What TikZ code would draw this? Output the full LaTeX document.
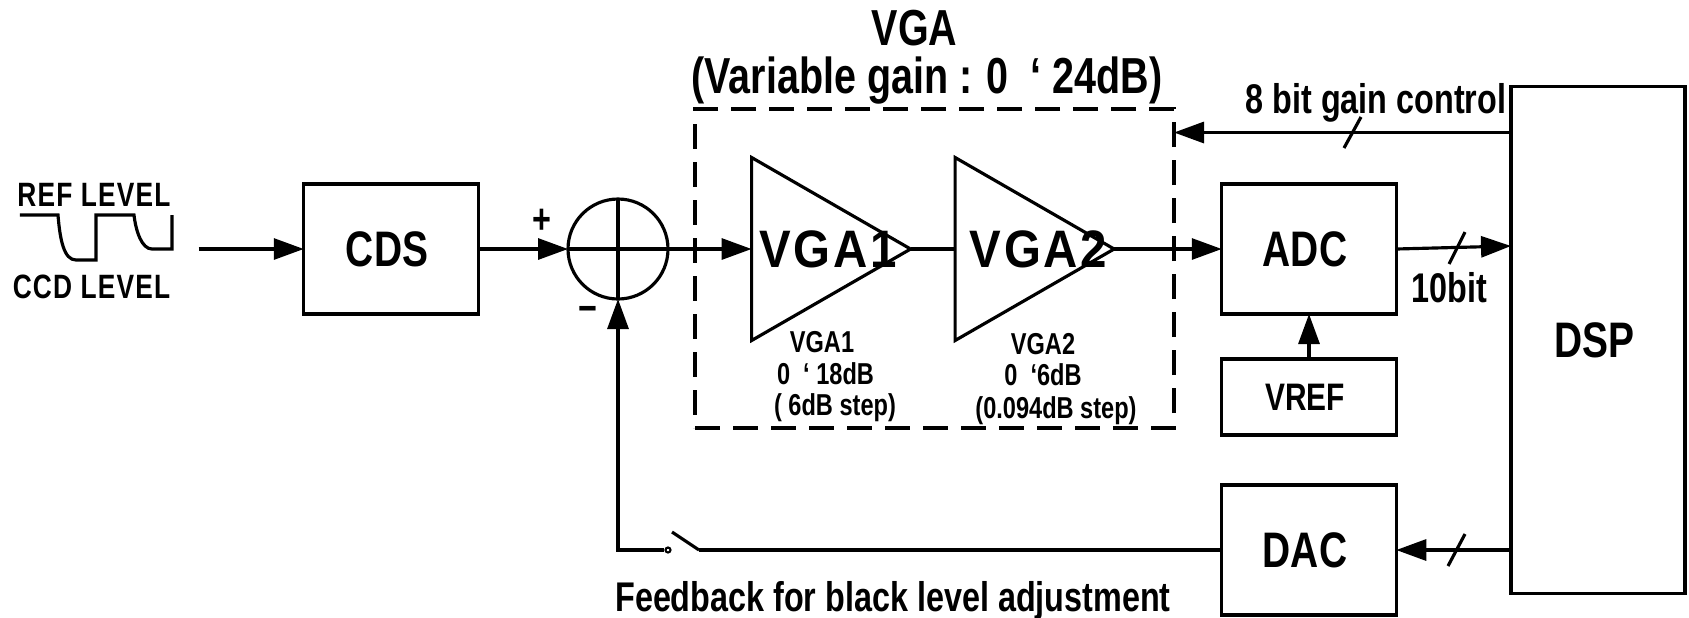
\documentclass[tikz,border=0pt]{standalone}
\usepackage{fontspec}
\setmainfont[FakeStretch=0.78]{Liberation Sans}
\newfontfamily\ampfont[FakeStretch=0.9,LetterSpace=5]{Liberation Sans}
\newfontfamily\levelfont[FakeStretch=0.78,LetterSpace=3.5]{Liberation Sans}
\usetikzlibrary{arrows.meta,shapes.geometric}
\tikzset{
  blockbox/.style={draw,rectangle,inner sep=0pt,outer sep=0pt,minimum width=1.745cm,font=\fontsize{14.2}{15}\bfseries,execute at begin node={\kern-0.8mm}},
  ampbox/.style={draw,isosceles triangle,isosceles triangle stretches,inner sep=0pt,outer sep=0pt,minimum width=1.83cm,minimum height=1.59cm},
  bigtext/.style={inner sep=0pt,font=\fontsize{14.4}{15}\bfseries},
  amptext/.style={inner sep=0pt,font=\fontsize{15}{16}\ampfont\bfseries},
  midtext/.style={inner sep=0pt,font=\fontsize{11.8}{13}\bfseries},
  smalltext/.style={inner sep=0pt,font=\fontsize{8.6}{10}\bfseries},
  leveltext/.style={inner sep=0pt,font=\fontsize{9.6}{11}\levelfont\bfseries},
  busarrow/.style={-{Triangle[length=3mm,width=2.1mm]}}
}
\begin{document}
\begin{tikzpicture}[y=-1cm,line width=0.9pt]
      \useasboundingbox (0,0) rectangle (16.89,6.17);
      \draw
        (3.91,2.49) node[blockbox,minimum height=1.30cm] (cds){CDS}
        (13.09,2.49) node[blockbox,minimum height=1.30cm] (adc){ADC}
        (13.09,3.97) node[blockbox,minimum height=0.76cm,font=\fontsize{10.9}{12}\bfseries] (vref){VREF}
        (13.09,5.50) node[blockbox,minimum height=1.30cm] (dac){DAC}
        (15.98,3.40) node[blockbox,minimum width=1.74cm,minimum height=5.07cm] (dsp){DSP};
      \draw
        (6.18,2.49) node[draw,circle,inner sep=0pt,outer sep=0pt,minimum size=1.00cm] (sum){}
        (8.045,2.49) node[ampbox] (vga1){}
        (10.08,2.49) node[ampbox] (vga2){}
        (9.345,2.685) node[draw,rectangle,inner sep=0pt,outer sep=0pt,line width=1.2pt,dash pattern=on 2.5mm off 1.3mm,minimum width=4.79cm,minimum height=3.19cm] (vgabox){};
      % labels
      \node[bigtext] (vgatitle) at (9.145,0.28) {VGA};
      \node[bigtext] (vgarange) at (9.27,0.81) {(Variable gain : 0 \ ‘ 24dB)};
      \node[midtext] (gainlabel) at (13.76,1.03) {8 bit gain control};
      \node[amptext] (vga1label) at (8.28,2.49) {VGA1};
      \node[amptext] (vga2label) at (10.385,2.49) {VGA2};
      \node[smalltext] (vga1a) at (8.22,3.425) {VGA1};
      \node[smalltext] (vga1b) at (8.255,3.74) {0 \ ‘ 18dB};
      \node[smalltext] (vga1c) at (8.35,4.08) {( 6dB step)};
      \node[smalltext] (vga2a) at (10.43,3.445) {VGA2};
      \node[smalltext] (vga2b) at (10.43,3.75) {0 \ ‘6dB};
      \node[smalltext] (vga2c) at (10.56,4.11) {(0.094dB step)};
      \node[midtext] (bitlabel) at (14.49,2.875) {10bit};
      \node[midtext] (feedback) at (8.93,6.01) {Feedback for black level adjustment};
      \node[leveltext] (reflabel) at (0.94,1.95) {REF LEVEL};
      \node[leveltext] (ccdlabel) at (0.915,2.865) {CCD LEVEL};
      \node[midtext] (plus) at (5.42,2.21) {+};
      \node[midtext] (minus) at (5.88,3.14) {−};
      % input waveform
      \draw (0.20,2.15) -- (0.58,2.15) .. controls (0.60,2.40) and (0.64,2.60) .. (0.76,2.60)
        -- (0.96,2.60) -- (0.96,2.15) -- (1.34,2.15) .. controls (1.36,2.32) and (1.42,2.49) .. (1.52,2.49)
        -- (1.72,2.49) -- (1.72,2.15);
      % summing cross
      \begin{scope}[-]
        \draw (sum.north) to (sum.south);
        \draw (sum.west) to (sum.east);
      \end{scope}
      % connectors
      \coordinate (wavein) at (1.985,2.49);
      \coordinate (gainout) at (15.11,1.325);
      \coordinate (adcin) at (15.11,2.46);
      \coordinate (swtip) at (6.72,5.32);
      \coordinate (swend) at (6.99,5.50);
      \node[draw,circle,inner sep=0pt,minimum size=0.5mm,line width=0.6pt] (swpole) at (6.68,5.50) {};
      \begin{scope}[busarrow]
        \draw (wavein) to (cds);
        \draw (cds) to (sum);
        \draw (sum.east) to (vga1.west);
        \draw (vga2.apex) to (adc);
        \draw (adc.east) to (adcin);
        \draw (vref) to (adc);
        \draw (dsp.west |- dac.east) to (dac);
        \draw (gainout) to (vgabox.east |- gainout);
        \draw (swpole) -| (sum);
      \end{scope}
      \begin{scope}[-]
        \draw (vga1.apex) to (vga2.west);
        \draw (dac) to (swend);
        \draw (swend) to (swtip);
      \end{scope}
      % bus marks
      \draw (13.44,1.48) -- (13.61,1.17);
      \draw (14.49,2.64) -- (14.65,2.32);
      \draw (14.48,5.66) -- (14.65,5.34);
\end{tikzpicture}
\end{document}
